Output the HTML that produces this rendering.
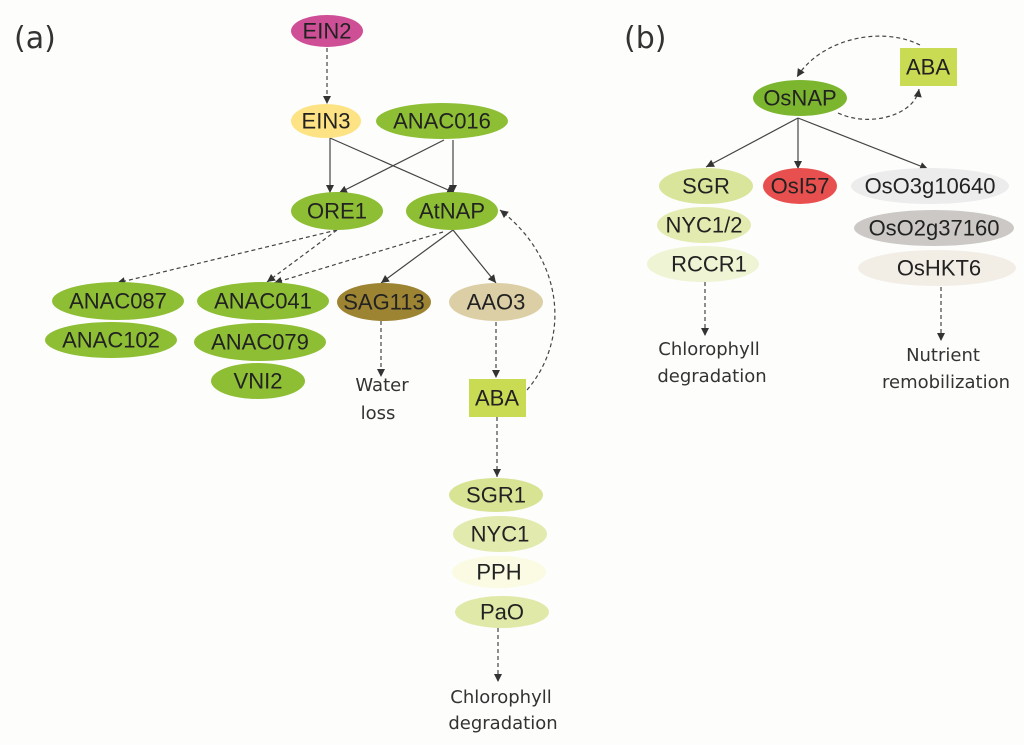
<!DOCTYPE html>
<html><head><meta charset="utf-8"><style>
html,body{margin:0;padding:0;background:#fdfdfc;}
svg{display:block;}
.n{font-family:"Liberation Sans",Arial,sans-serif;font-size:22px;fill:#222;text-anchor:middle;dominant-baseline:central;}
.t{font-family:"DejaVu Sans","Liberation Sans",sans-serif;font-size:18px;fill:#333;text-anchor:middle;}
.s{stroke:#444;stroke-width:1.2;fill:none;}
.d{stroke:#444;stroke-width:1.2;fill:none;stroke-dasharray:4 3;}
</style></head><body>
<svg width="1024" height="745" viewBox="0 0 1024 745" xmlns="http://www.w3.org/2000/svg">
<defs>
<marker id="a" markerWidth="10" markerHeight="10" refX="9" refY="5" orient="auto" markerUnits="userSpaceOnUse">
<path d="M1,1 L9,5 L1,9 Z" fill="#333"/></marker>
</defs>
<rect width="1024" height="745" fill="#fdfdfc"/>
<text x="14" y="48" font-family="DejaVu Sans,sans-serif" font-size="30" fill="#333">(a)</text>
<text x="624" y="48" font-family="DejaVu Sans,sans-serif" font-size="30" fill="#333">(b)</text>

<path class="d" d="M327,48 L327,104" marker-end="url(#a)"/>
<path class="s" d="M330,138 L330,193" marker-end="url(#a)"/>
<path class="s" d="M330,138 L455,193" marker-end="url(#a)"/>
<path class="s" d="M444,140 L339,193" marker-end="url(#a)"/>
<path class="s" d="M453,140 L453,193" marker-end="url(#a)"/>
<path class="d" d="M337,230 L117,283" marker-end="url(#a)"/>
<path class="d" d="M337,230 L267,282" marker-end="url(#a)"/>
<path class="d" d="M443,232 L274,283" marker-end="url(#a)"/>
<path class="s" d="M453,230 L381,283" marker-end="url(#a)"/>
<path class="s" d="M453,230 L496,283" marker-end="url(#a)"/>
<path class="d" d="M381,321 L381,377" marker-end="url(#a)"/>
<path class="d" d="M496,322 L496,378" marker-end="url(#a)"/>
<path class="d" d="M527,390 C570,340 565,260 500,210" marker-end="url(#a)"/>
<path class="d" d="M497,417 L497,477" marker-end="url(#a)"/>
<path class="d" d="M498,628 L498,682" marker-end="url(#a)"/>

<ellipse cx="327" cy="31" rx="36" ry="16" fill="#cf4f97"/><text class="n" x="327" y="31">EIN2</text>
<ellipse cx="326" cy="121" rx="35" ry="17" fill="#fde383"/><text class="n" x="326" y="121">EIN3</text>
<ellipse cx="442" cy="121" rx="66" ry="18" fill="#8dbe34"/><text class="n" x="442" y="121">ANAC016</text>
<ellipse cx="337" cy="211" rx="46" ry="19" fill="#8dbe34"/><text class="n" x="337" y="211">ORE1</text>
<ellipse cx="452" cy="211" rx="46" ry="19" fill="#8dbe34"/><text class="n" x="452" y="211">AtNAP</text>
<ellipse cx="118" cy="301" rx="66" ry="19" fill="#8dbe34"/><text class="n" x="118" y="301">ANAC087</text>
<ellipse cx="263" cy="301" rx="66" ry="19" fill="#8dbe34"/><text class="n" x="263" y="301">ANAC041</text>
<ellipse cx="384" cy="302" rx="47" ry="19" fill="#9d8433"/><text class="n" x="384" y="302">SAG113</text>
<ellipse cx="496" cy="302" rx="47" ry="19" fill="#dccfa5"/><text class="n" x="496" y="302">AAO3</text>
<ellipse cx="111" cy="340" rx="66" ry="18" fill="#8dbe34"/><text class="n" x="111" y="340">ANAC102</text>
<ellipse cx="260" cy="342" rx="66" ry="19" fill="#8dbe34"/><text class="n" x="260" y="342">ANAC079</text>
<ellipse cx="258" cy="381" rx="47" ry="18" fill="#8dbe34"/><text class="n" x="258" y="381">VNI2</text>
<text class="t" x="382" y="391">Water</text>
<text class="t" x="378" y="419">loss</text>
<rect x="469" y="379" width="57" height="38" fill="#c9da53"/><text class="n" x="497" y="398">ABA</text>
<ellipse cx="496" cy="495" rx="47" ry="17" fill="#d8e394"/><text class="n" x="496" y="495">SGR1</text>
<ellipse cx="500" cy="534" rx="47" ry="18" fill="#e2eaae"/><text class="n" x="500" y="534">NYC1</text>
<ellipse cx="499" cy="572" rx="47" ry="16" fill="#fafbe2"/><text class="n" x="499" y="572">PPH</text>
<ellipse cx="502" cy="612" rx="47" ry="16" fill="#e0e9a8"/><text class="n" x="502" y="612">PaO</text>
<text class="t" x="501" y="703">Chlorophyll</text>
<text class="t" x="503" y="729">degradation</text>

<path class="d" d="M920,45 C880,25 820,40 797,77" marker-end="url(#a)"/>
<path class="d" d="M838,113 C870,128 915,115 919,89" marker-end="url(#a)"/>
<path class="s" d="M798,118 L706,167" marker-end="url(#a)"/>
<path class="s" d="M798,118 L798,169" marker-end="url(#a)"/>
<path class="s" d="M798,118 L928,169" marker-end="url(#a)"/>
<path class="d" d="M705,282 L705,336" marker-end="url(#a)"/>
<path class="d" d="M941,287 L941,341" marker-end="url(#a)"/>

<rect x="900" y="48" width="57" height="38" fill="#c9da53"/><text class="n" x="928" y="67">ABA</text>
<ellipse cx="800" cy="98" rx="47" ry="18" fill="#7cb52e"/><text class="n" x="800" y="98">OsNAP</text>
<ellipse cx="706" cy="186" rx="47" ry="18" fill="#d9e59a"/><text class="n" x="706" y="186">SGR</text>
<ellipse cx="800" cy="186" rx="37" ry="18" fill="#e8504f"/><text class="n" x="800" y="186">OsI57</text>
<ellipse cx="930" cy="186" rx="79" ry="18" fill="#ececec"/><text class="n" x="930" y="186">OsO3g10640</text>
<ellipse cx="704" cy="225" rx="47" ry="18" fill="#e3ebb0"/><text class="n" x="704" y="225">NYC1/2</text>
<ellipse cx="934" cy="228" rx="80" ry="18" fill="#cbc8c5"/><text class="n" x="934" y="228">OsO2g37160</text>
<ellipse cx="703" cy="264" rx="56" ry="18" fill="#eef4d4"/><text class="n" x="709" y="264">RCCR1</text>
<ellipse cx="937" cy="268" rx="79" ry="18" fill="#f2eee6"/><text class="n" x="939" y="268">OsHKT6</text>
<text class="t" x="709" y="355">Chlorophyll</text>
<text class="t" x="712" y="382">degradation</text>
<text class="t" x="943" y="361">Nutrient</text>
<text class="t" x="946" y="388">remobilization</text>
</svg>
</body></html>
